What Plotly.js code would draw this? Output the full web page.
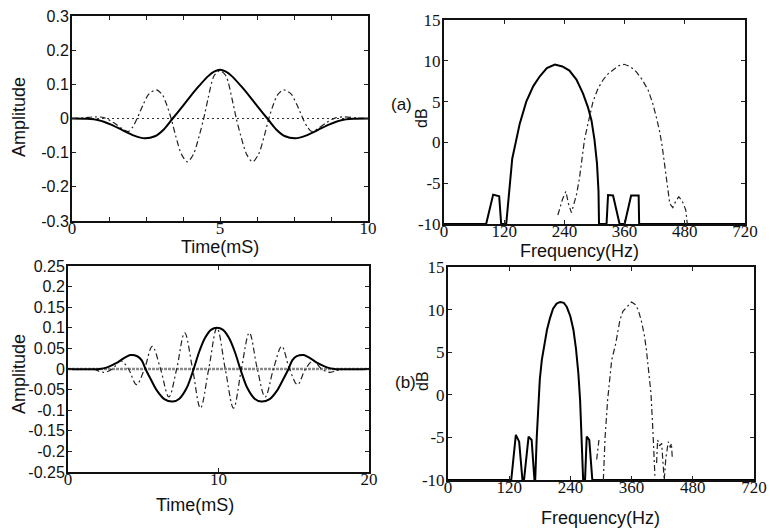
<!DOCTYPE html>
<html><head><meta charset="utf-8">
<script src="https://cdn.plot.ly/plotly-3.0.1.min.js"></script>
<style>html,body{margin:0;padding:0;background:#fff}#chart{width:770px;height:531px}</style>
</head><body><div id="chart"></div>
<script>
// ---------- (top-left) time-domain wavelets, 0-10 ms ----------
const tl_solid_x = [0,0.5,0.9,1.3,1.7,2.1,2.45,2.8,3.1,3.4,3.7,4.0,4.3,4.6,4.8,5.0,5.2,5.4,5.7,6.0,6.3,6.6,6.9,7.2,7.55,7.9,8.3,8.7,9.1,9.5,10];
const tl_solid_y = [0,-0.001,-0.005,-0.017,-0.034,-0.05,-0.058,-0.052,-0.032,0,0.032,0.065,0.096,0.124,0.137,0.143,0.137,0.124,0.096,0.065,0.032,0,-0.032,-0.052,-0.058,-0.05,-0.034,-0.017,-0.005,-0.001,0];
const tl_dash_x = [0,0.4,0.8,1.1,1.4,1.7,1.9,2.05,2.2,2.4,2.6,2.85,3.05,3.2,3.35,3.5,3.7,3.9,4.1,4.3,4.45,4.6,4.8,5.0,5.2,5.4,5.55,5.7,5.9,6.1,6.3,6.5,6.65,6.8,6.95,7.15,7.4,7.6,7.8,7.95,8.1,8.3,8.6,8.9,9.2,9.6,10];
const tl_dash_y = [0,0.002,0.005,0.002,-0.012,-0.03,-0.038,-0.025,0,0.04,0.072,0.084,0.07,0.04,0,-0.05,-0.105,-0.127,-0.105,-0.05,0,0.06,0.125,0.14,0.125,0.06,0,-0.05,-0.105,-0.127,-0.105,-0.05,0,0.04,0.07,0.084,0.072,0.04,0,-0.025,-0.038,-0.03,-0.012,0.002,0.005,0.002,0];
const tl_zero_x = [0,10];
const tl_zero_y = [0,0];

// ---------- (top-right, a) spectra ----------
const tr_solid_x = [0,84,98,110,114,124,130,136,151,164,178,191,205,221,236,250,264,277,287,294,300,305,308,309,324,327,337,350,360,373,388,389,600];
const tr_solid_y = [-10,-10,-6.4,-6.6,-10,-10,-6,-2,2.3,5.0,6.9,8.1,9.1,9.55,9.3,8.8,7.7,6.0,4.3,2.7,0.3,-2.6,-6,-10,-10,-6.45,-6.5,-10,-10,-6.5,-6.5,-10,-10];
const tr_dash_x = [227,236,243,248,254,259,264,270,275,280,287,297,307,317,327,337,348,359,371,383,395,407,416,423,430,435,440,443,447,450,456,462,468,475,482,485];
const tr_dash_y = [-8.9,-7,-6,-7.5,-8.6,-7.5,-6.45,-4.4,-2,0.3,2.3,5.0,6.6,7.65,8.4,8.9,9.4,9.57,9.3,8.67,7.7,6.4,4.8,3.15,1.3,-0.5,-3,-4.6,-6.3,-7.5,-8.0,-7.2,-6.65,-7.2,-8.3,-10];

// ---------- (bottom-left) time-domain wavelets, 0-20 ms ----------
const bl_solid_x = [0,2.1,2.6,3.2,3.7,4.15,4.6,4.9,5.15,5.5,5.9,6.4,6.95,7.4,7.9,8.35,8.7,9.1,9.5,9.9,10.3,10.7,11.1,11.45,11.9,12.4,12.85,13.4,13.9,14.3,14.65,14.9,15.2,15.65,16.1,16.6,17.2,17.7,20];
const bl_solid_y = [0,0,0.004,0.014,0.026,0.034,0.031,0.021,0,-0.025,-0.052,-0.073,-0.079,-0.072,-0.045,0,0.04,0.075,0.095,0.1,0.095,0.075,0.04,0,-0.045,-0.072,-0.079,-0.073,-0.052,-0.025,0,0.021,0.031,0.034,0.026,0.014,0.004,0,0];
const bl_dash_x = [1.7,2.4,2.95,3.5,4.02,4.55,5.08,5.6,6.15,6.7,7.22,7.75,8.28,8.8,9.35,9.9,10.45,11.0,11.52,12.05,12.58,13.1,13.65,14.2,14.72,15.25,15.78,16.3,16.85,17.4,18.1];
const bl_dash_y = [0,-0.008,0,0.02,0,-0.038,0,0.055,0,-0.068,0,0.088,0,-0.095,0,0.1,0,-0.095,0,0.088,0,-0.068,0,0.055,0,-0.038,0,0.02,0,-0.008,0];
const bl_zero_x = [0,20];
const bl_zero_y = [0,0];

// ---------- (bottom-right, b) spectra ----------
const br_solid_x = [0,124,133,139.5,146,149,158,164,169.5,171,174,177,180,184,189,194,200,206,213,220,227,233,240,246,251,255.6,259,262,263.5,265,268.7,272,277,283,600];
const br_solid_y = [-10,-10,-4.7,-5.5,-10,-10,-4.9,-5.3,-10,-10,-5,-0.6,1.8,4.1,6.1,7.6,9.0,10.1,10.7,10.9,10.8,10.3,9.2,7.6,5.4,2.5,-0.6,-4.5,-7,-10,-10,-4.9,-5.3,-10,-10];
const br_dash_x = [291.5,296,null,304.6,308,313,317,321,329,337,343,350,360,367,373,379,385,389,392.6,398,402,405.7,null,409,411,415,419,421,424,427,432,436,438,440];
const br_dash_y = [-7.6,-5.3,null,-10,-5,-0.6,2,4.07,6.05,8.75,9.8,10.3,10.9,10.6,9.96,8.7,7.0,5.3,3.3,0.16,-4.5,-9.5,null,-8,-5.3,-6,-5.7,-7.5,-10,-7.5,-5.5,-6.2,-5.7,-7.6];

// ---------- tick labels ----------
const tlXTicks = [0,1.25,2.5,3.75,5,6.25,7.5,8.75,10];
const tlXText  = ['0','','','','5','','','','10'];
const tlYTicks = [-0.3,-0.2,-0.1,0,0.1,0.2,0.3];
const tlYText  = ['-0.3','-0.2','-0.1','0','0.1','0.2','0.3'];
const blXTicks = [0,10,20];
const blXText  = ['0','10','20'];
const blYTicks = [-0.25,-0.2,-0.15,-0.1,-0.05,0,0.05,0.1,0.15,0.2,0.25];
const blYText  = ['-0.25','-0.2','-0.15','-0.1','-0.05','0','0.05','0.1','0.15','0.2','0.25'];
const frqTicks = [0,120,240,360,480,600];
const frqText  = ['0','120','240','360','480','720'];
const dbTicks  = [-10,-5,0,5,10,15];
const dbText   = ['-10','-5','0','5','10','15'];

// ---------- layout helpers ----------
const W = 770, H = 531;
const fx = p => p / W;
const fy = p => 1 - p / H;
const SANS = 'Liberation Sans, Arial, sans-serif';
const SERIF = 'Liberation Serif, Times New Roman, serif';
const INK = '#111';

function axis(dom, rng, tv, tt, fam, size, anchor, standoff) {
  return {
    domain: dom, range: rng, anchor: anchor, tickvals: tv, ticktext: tt,
    ticks: 'inside', ticklen: 4, tickwidth: 1, tickcolor: '#222',
    showline: true, mirror: 'ticks', linecolor: '#111', linewidth: 2,
    showgrid: false, zeroline: false, fixedrange: true,
    ticklabelstandoff: standoff,
    tickfont: {family: fam, size: size, color: INK}
  };
}

const solid = {color: '#000', width: 2};
const dashed = {color: '#222', width: 1.2, dash: '6px,3px,2px,3px'};

const traces = [
  {x: tl_zero_x, y: tl_zero_y, xaxis: 'x', yaxis: 'y', mode: 'lines', line: {color: '#333', width: 1, dash: '2px,3px'}},
  {x: tl_dash_x, y: tl_dash_y, xaxis: 'x', yaxis: 'y', mode: 'lines', line: Object.assign({shape: 'spline', smoothing: 0.8}, dashed)},
  {x: tl_solid_x, y: tl_solid_y, xaxis: 'x', yaxis: 'y', mode: 'lines', line: Object.assign({shape: 'spline', smoothing: 0.8}, solid)},

  {x: tr_solid_x, y: tr_solid_y, xaxis: 'x2', yaxis: 'y2', mode: 'lines', line: solid},
  {x: tr_dash_x, y: tr_dash_y, xaxis: 'x2', yaxis: 'y2', mode: 'lines', line: dashed},

  {x: bl_zero_x, y: bl_zero_y, xaxis: 'x3', yaxis: 'y3', mode: 'lines', line: {color: '#8a8a8a', width: 2.5, dash: '3px,1px'}},
  {x: bl_dash_x, y: bl_dash_y, xaxis: 'x3', yaxis: 'y3', mode: 'lines', line: Object.assign({shape: 'spline', smoothing: 1}, dashed)},
  {x: bl_solid_x, y: bl_solid_y, xaxis: 'x3', yaxis: 'y3', mode: 'lines', line: Object.assign({shape: 'spline', smoothing: 0.8}, solid)},

  {x: br_solid_x, y: br_solid_y, xaxis: 'x4', yaxis: 'y4', mode: 'lines', line: solid},
  {x: br_dash_x, y: br_dash_y, xaxis: 'x4', yaxis: 'y4', mode: 'lines', connectgaps: false, line: dashed}
];

function ann(text, x, y, size, angle) {
  return {text: text, xref: 'paper', yref: 'paper', x: fx(x), y: fy(y),
          xanchor: 'center', yanchor: 'middle', showarrow: false,
          textangle: angle || 0, font: {family: SANS, size: size, color: INK}};
}

const layout = {
  width: W, height: H, margin: {l: 0, r: 0, t: 0, b: 0},
  paper_bgcolor: '#fff', plot_bgcolor: '#fff', showlegend: false, hovermode: false,
  xaxis:  axis([fx(72), fx(368)], [0, 10], tlXTicks, tlXText, SERIF, 17, 'y', -9),
  yaxis:  axis([fy(221), fy(16)], [-0.3, 0.3], tlYTicks, tlYText, SANS, 16, 'x', -2),
  xaxis2: axis([fx(444), fx(745)], [0, 600], frqTicks, frqText, SERIF, 17, 'y2', -9),
  yaxis2: axis([fy(224), fy(20)], [-10, 15], dbTicks, dbText, SERIF, 17, 'x2', -2),
  xaxis3: axis([fx(68), fx(369)], [0, 20], blXTicks, blXText, SERIF, 17, 'y3', -9),
  yaxis3: axis([fy(472), fy(266)], [-0.25, 0.25], blYTicks, blYText, SANS, 16, 'x3', -2),
  xaxis4: axis([fx(448), fx(754)], [0, 600], frqTicks, frqText, SERIF, 17, 'y4', -9),
  yaxis4: axis([fy(480), fy(267)], [-10, 15], dbTicks, dbText, SERIF, 17, 'x4', -2),
  annotations: [
    ann('Amplitude', 19, 117, 18, -90),
    ann('Time(mS)', 220, 247, 18),
    ann('(a)', 402, 104, 17),
    ann('dB', 421, 118, 16, -90),
    ann('Frequency(Hz)', 579, 251, 18),
    ann('Amplitude', 19, 374, 18, -90),
    ann('Time(mS)', 195, 505, 18),
    ann('(b)', 405, 382, 17),
    ann('dB', 422, 381, 16, -90),
    ann('Frequency(Hz)', 600, 518, 18)
  ]
};

Plotly.newPlot('chart', traces, layout, {staticPlot: true, displayModeBar: false});
</script></body></html>
